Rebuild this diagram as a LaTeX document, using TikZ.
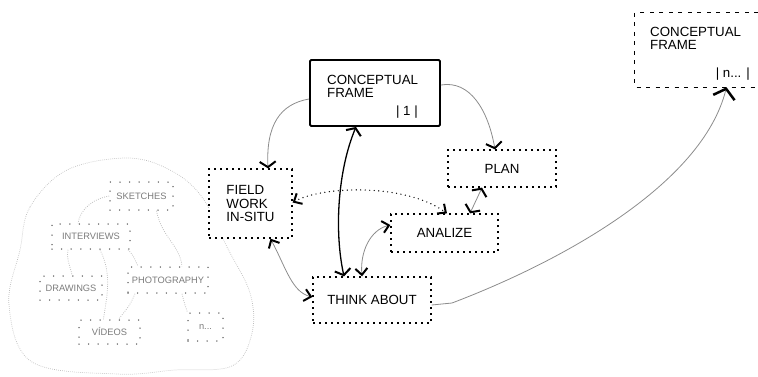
\documentclass[tikz,border=0pt]{standalone}
\usepackage{fontspec}
\setmainfont{Liberation Sans}
\usetikzlibrary{arrows.meta}
\definecolor{lgray}{HTML}{BDBDBD}
\definecolor{mgray}{HTML}{8C8C8C}
\definecolor{dgray}{HTML}{505050}
\definecolor{tgray}{HTML}{7C7C7C}
\tikzset{
  Vb/.tip={Straight Barb[black,length=5.5pt,width=16pt,line width=2pt]},
  Vs/.tip={Straight Barb[black,length=6.5pt,width=12pt,line width=2pt]},
  Vbig/.tip={Straight Barb[black,length=9pt,width=22pt,line width=2.5pt]},
  txt/.style={inner sep=0pt, align=left, font=\fontsize{13.3}{13.5}\selectfont},
  mainbox/.style={draw=black, line width=1.3pt, dash pattern=on 2.4pt off 3.6pt, fill=white,
    inner sep=0pt, align=left, font=\fontsize{13.3}{13.5}\selectfont},
  solidbox/.style={draw=black, line width=1.9pt, rounded corners=1.2pt, fill=white, inner sep=0pt},
  dashbox/.style={draw=black, line width=1.1pt, dash pattern=on 4pt off 5.5pt},
  subbox/.style={draw=dgray, line width=1.5pt, line cap=round, dash pattern=on 0pt off 9.6pt,
    fill=white, text=tgray, inner sep=0pt, font=\fontsize{9.3}{11}\selectfont},
  cloudline/.style={draw=lgray, line width=0.7pt, dash pattern=on 0.7pt off 1.3pt},
  sublink/.style={draw=lgray, line width=0.8pt, dash pattern=on 0.8pt off 1.4pt},
  glink/.style={draw=mgray, line width=0.8pt},
  blink/.style={draw=black, line width=1.3pt},
  dlink/.style={draw=black, line width=1.4pt, line cap=round, dash pattern=on 0pt off 4.5pt}
}
\begin{document}
\begin{tikzpicture}[x=1pt,y=-1pt]
\useasboundingbox (0,0) rectangle (758,376);

% cloud
\draw[cloudline] plot[smooth cycle, tension=0.6] coordinates {
  (20,250) (30,207) (67,170) (127,158) (170,170) (202,197) (227,247)
  (250,293) (252,333) (232,366) (175,370) (117,374) (32,362) (9,305)};

% sub nodes
\node[subbox, minimum width=63pt, minimum height=28pt] (sk) at (141.5,196) {SKETCHES};
\node[subbox, minimum width=78pt, minimum height=25pt] (iv) at (91,236.5) {INTERVIEWS};
\node[subbox, minimum width=62pt, minimum height=24pt] (dr) at (71,288) {DRAWINGS};
\node[subbox, minimum width=80pt, minimum height=26pt] (ph) at (168,280) {PHOTOGRAPHY};
\node[subbox, minimum width=61pt, minimum height=24pt] (vi) at (109.5,332) {VÍDEOS};
\node[subbox, minimum width=35pt, minimum height=28pt] (nn) at (205.5,327) {n...};

% sub links
\draw[sublink] (sk.west) .. controls (92,199) and (80,210) .. ([xshift=-13pt]iv.north);
\draw[sublink] ([xshift=15pt]sk.south) .. controls (162,238) and (180,245) .. ([xshift=14pt]ph.north);
\draw[sublink] ([xshift=-23pt]iv.south) .. controls (66,260) and (71,268) .. ([xshift=1pt]dr.north);
\draw[sublink] ([xshift=9pt]iv.south) .. controls (113,275) and (106,300) .. ([xshift=-6pt]vi.north);
\draw[sublink] ([xshift=37pt]iv.south) .. controls (133,255) .. ([xshift=-30pt]ph.north);
\draw[sublink] ([xshift=-33pt]ph.south) .. controls (130,305) .. ([xshift=9pt]vi.north);
\draw[sublink] ([xshift=14pt]ph.south) .. controls (184,302) .. ([xshift=-18pt]nn.north);

% main nodes
\node[solidbox, minimum width=130pt, minimum height=66pt] (cf1) at (375,93) {};
\node[txt, anchor=north west] (cf1t) at (327,75) {CONCEPTUAL\\FRAME};
\node[txt, anchor=base east] (cf1n) at (418,115) {| 1 |};

\node[mainbox, minimum width=83pt, minimum height=69pt] (field) at (250.5,203.5) {FIELD\\WORK\\IN-SITU};
\node[mainbox, minimum width=108pt, minimum height=37pt] (plan) at (502,168.5) {PLAN};
\node[mainbox, minimum width=107pt, minimum height=38pt] (anal) at (444.5,233) {ANALIZE};
\node[mainbox, minimum width=118pt, minimum height=46pt] (think) at (372,300) {THINK ABOUT};

\node[minimum width=123pt, minimum height=74pt, inner sep=0pt] (cfn) at (696.5,50) {};
\draw[dashbox] (cfn.north east) -- (cfn.north west) -- (cfn.south west) -- (cfn.south east);
\node[txt, anchor=north west] (cfnt) at (650,27) {CONCEPTUAL\\FRAME};
\node[txt, anchor=base east] (cfnn) at (750,77) {| n... |};

% connectors
\draw[glink, -Vb] ([yshift=-6pt]cf1.west) .. controls (280,104) and (266,125) .. ([xshift=17.5pt]field.north);
\draw[glink, -Vb] ([yshift=8pt]cf1.east) .. controls (470,80) and (488,110) .. ([xshift=-7pt]plan.north);
\draw[blink, Vb-Vb] ([xshift=-19pt]cf1.south) .. controls (338,170) and (334,230) .. ([xshift=-28pt]think.north);
\draw[dlink, Vs-Vs] ([yshift=1pt]field.east) .. controls (322,186) and (405,183) .. ([xshift=2.5pt]anal.north);
\draw[glink, Vb-Vb] ([xshift=-20pt]plan.south) -- ([xshift=25.5pt]anal.north);
\draw[glink, Vs-Vs] ([xshift=-10pt]think.north) .. controls (360,252) and (370,230) .. ([yshift=8pt]anal.west);
\draw[glink, Vs-Vs] ([xshift=20pt]field.south) .. controls (286,268) and (292,292) .. ([yshift=3pt]think.west);
\draw[glink, -Vbig] ([yshift=-5pt]think.east) -- (452,303) .. controls (560,262) and (702,185) .. ([xshift=30pt]cfn.south);
\end{tikzpicture}
\end{document}
